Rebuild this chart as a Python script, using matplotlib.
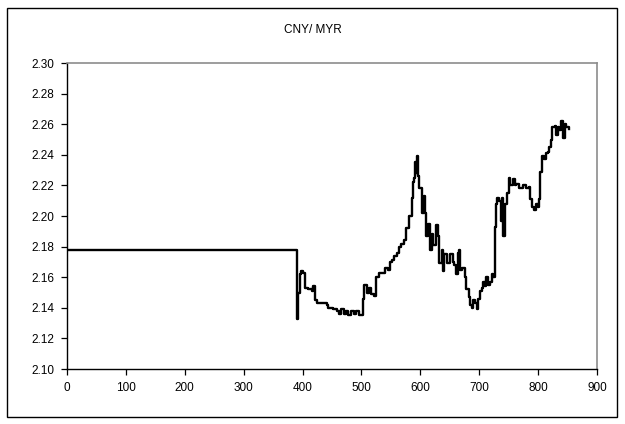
import matplotlib.pyplot as plt
from matplotlib.patches import Rectangle

plt.rcParams['font.family'] = ['Liberation Sans', 'DejaVu Sans']

# trading day index and CNY/MYR rate
day = [0, 389, 390, 392, 395, 398, 401, 404, 410, 416, 418, 421, 424, 432,
       441, 444, 452, 458, 462, 466, 470, 474, 478, 482, 487, 491, 495, 500,
       503, 505, 509, 513, 517, 522, 525, 530, 535, 540, 545, 548, 552, 556,
       560, 564, 568, 572, 576, 580, 585, 588, 590, 591, 593, 595, 596, 598,
       602, 603, 606, 608, 609, 613, 616, 620, 622, 626, 630, 631, 636, 639,
       641, 646, 650, 655, 658, 661, 664, 666, 667, 671, 675, 678, 682, 685,
       688, 690, 693, 696, 698, 702, 705, 707, 710, 712, 715, 718, 721, 724,
       726, 729, 731, 734, 737, 739, 741, 743, 747, 750, 752, 757, 760, 763,
       768, 774, 780, 784, 786, 790, 793, 796, 799, 802, 803, 807, 810, 813,
       816, 819, 822, 824, 828, 831, 833, 836, 839, 842, 845, 848, 852]
rate = [2.178, 2.178, 2.133, 2.150, 2.162, 2.164, 2.163, 2.153, 2.152, 2.151,
        2.154, 2.145, 2.143, 2.143, 2.142, 2.140, 2.139, 2.138, 2.136, 2.139,
        2.136, 2.138, 2.135, 2.138, 2.136, 2.138, 2.135, 2.135, 2.146, 2.155,
        2.150, 2.153, 2.149, 2.148, 2.160, 2.163, 2.163, 2.166, 2.165, 2.170,
        2.171, 2.174, 2.176, 2.180, 2.182, 2.184, 2.192, 2.200, 2.212, 2.222,
        2.225, 2.235, 2.228, 2.239, 2.226, 2.218, 2.217, 2.202, 2.213, 2.202,
        2.187, 2.195, 2.178, 2.188, 2.181, 2.194, 2.187, 2.169, 2.178, 2.164,
        2.175, 2.169, 2.175, 2.170, 2.168, 2.162, 2.176, 2.178, 2.165, 2.166,
        2.160, 2.152, 2.147, 2.142, 2.140, 2.145, 2.143, 2.139, 2.146, 2.151,
        2.153, 2.157, 2.154, 2.160, 2.155, 2.157, 2.162, 2.160, 2.193, 2.208,
        2.212, 2.210, 2.197, 2.212, 2.187, 2.208, 2.215, 2.225, 2.220, 2.224,
        2.220, 2.221, 2.218, 2.220, 2.218, 2.219, 2.211, 2.206, 2.204, 2.208,
        2.206, 2.211, 2.229, 2.239, 2.237, 2.241, 2.242, 2.245, 2.250, 2.258,
        2.259, 2.253, 2.258, 2.256, 2.262, 2.251, 2.260, 2.258, 2.257]

x_ticks = [0, 100, 200, 300, 400, 500, 600, 700, 800, 900]
y_ticks = [2.10, 2.12, 2.14, 2.16, 2.18, 2.20, 2.22, 2.24, 2.26, 2.28, 2.30]

fig = plt.figure(figsize=(6.25, 4.24), dpi=100)
ax = fig.add_axes([0.1072, 0.1297, 0.848, 0.7217])

ax.plot(day, rate, color='black', lw=1.7, drawstyle='steps-post')

ax.set_xlim(0, 900)
ax.set_ylim(2.10, 2.30)
ax.set_xticks(x_ticks)
ax.set_yticks(y_ticks)
ax.set_yticklabels([f'{v:.2f}' for v in y_ticks])
ax.tick_params(direction='out', length=4, width=0.9, color='black',
               labelsize=8.5, pad=5)

for side in ('left', 'bottom'):
    ax.spines[side].set_color('black')
    ax.spines[side].set_linewidth(1.0)
for side in ('top', 'right'):
    ax.spines[side].set_color('#8c8c8c')
    ax.spines[side].set_linewidth(1.2)

fig.text(0.5, 0.929, 'CNY/ MYR', ha='center', va='center', fontsize=8.5)

# chart frame around everything
fig.patches.append(Rectangle((0.0112, 0.0165), 0.976, 0.9646,
                             transform=fig.transFigure, fill=False,
                             edgecolor='black', lw=1.0))

fig.savefig('out.png', dpi=100)
